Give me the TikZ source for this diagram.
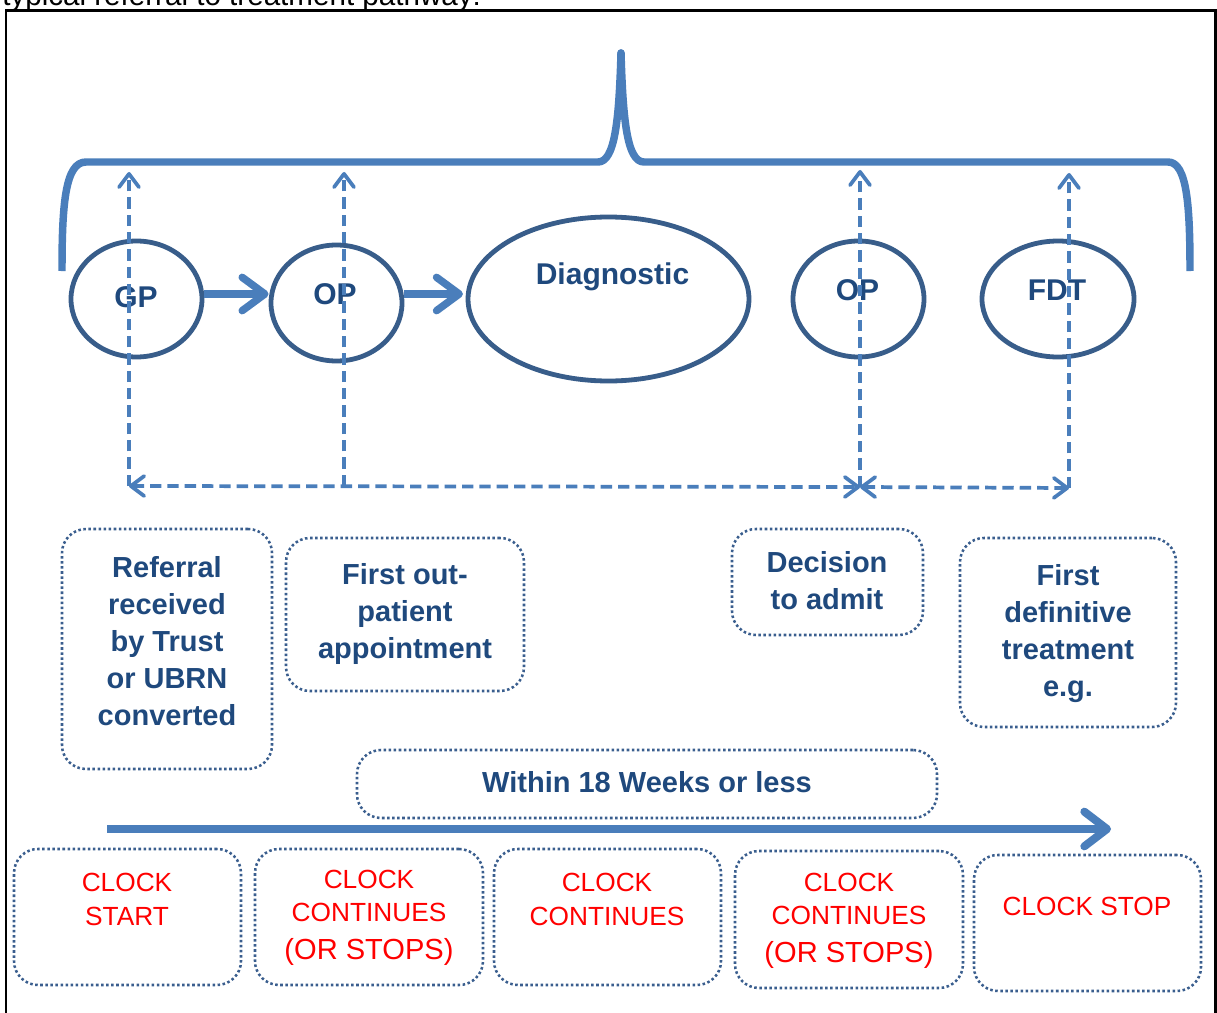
\documentclass[tikz,border=0pt]{standalone}
\usepackage{fontspec}
\setmainfont{Liberation Sans}
\usetikzlibrary{arrows.meta,shapes.geometric}
\definecolor{bracecol}{HTML}{4A7EBB}
\definecolor{ellcol}{HTML}{385D8A}
\definecolor{txtblue}{HTML}{1F497D}
\definecolor{dotcol}{HTML}{3A5E8E}
\definecolor{clockred}{HTML}{FF0000}
\begin{document}
\begin{tikzpicture}[x=0.75pt,y=-0.75pt,
  ell/.style={draw=ellcol, line width=3.6pt, ellipse, inner sep=0pt},
  elltxt/.style={text=txtblue, font=\fontsize{22.5}{27}\selectfont\bfseries, inner sep=0pt},
  thickarr/.style={draw=bracecol, line width=5.6pt, -{Straight Barb[length=17pt,width=25pt,round]}},
  bigarr/.style={draw=bracecol, line width=6pt, -{Straight Barb[length=17pt,width=26pt,round]}},
  dasharr/.style={draw=bracecol, line width=2.8pt, dash pattern=on 8.5pt off 4.5pt},
  dtip/.style={arrows={-{Straight Barb[length=10pt,width=15pt,round]}}},
  dtips/.style={arrows={{Straight Barb[length=10pt,width=15pt,round]}-{Straight Barb[length=10pt,width=15pt,round]}}},
  dotbox/.style={draw=dotcol, line width=1.9pt, dash pattern=on 1.9pt off 1.9pt, rounded corners=18pt, inner sep=0pt},
  bluetxt/.style={text=txtblue, font=\fontsize{21.75}{27.75}\selectfont\bfseries, align=center, inner sep=0pt},
  redtxt/.style={text=clockred, font=\fontsize{19.7}{25}\selectfont, align=center, inner sep=0pt}
]
\useasboundingbox (0,0) rectangle (1217,1013);
\clip (0,0) rectangle (1217,1013);
\fill[white] (0,0) rectangle (1217,1013);

% header text (cut off) and frame
\node[anchor=base west, font=\fontsize{22.2}{26}\selectfont, inner sep=0pt] (hdr) at (2,6) {typical referral to treatment pathway:};
\draw[black, line width=2pt] (6,10.5) rectangle (1215.5,1040);

% brace
\draw[bracecol, line width=5.6pt, line join=round, line cap=butt]
  (62,271) .. controls (62,205) and (65,162) .. (86,162) -- (598,162)
  .. controls (615,162) and (619,120) .. (621,53)
  .. controls (623,120) and (627,162) .. (644,162) -- (1168,162)
  .. controls (1187,162) and (1190,205) .. (1190,271);
\fill[bracecol] (621,53) circle (2.8pt);

% ellipses
\node[ell, minimum width=98.25pt, minimum height=87pt] (gp) at (136.5,299) {};
\node[ell, minimum width=98.25pt, minimum height=87pt] (op1) at (336.5,303) {};
\node[ell, minimum width=210.75pt, minimum height=123pt] (diag) at (608.5,299) {};
\node[ell, minimum width=98.25pt, minimum height=87pt] (op2) at (858.5,299) {};
\node[ell, minimum width=114pt, minimum height=87pt] (fdt) at (1058,299) {};

\node[elltxt] (gpt) at (136,297.5) {GP};
\node[elltxt] (op1t) at (335,294) {OP};
\node[elltxt, anchor=base] (diagt) at (612.5,284) {Diagnostic};
\node[elltxt] (op2t) at (857.5,290) {OP};
\node[elltxt] (fdtt) at (1057,290) {FDT};

% thick arrows
\draw[thickarr] (gp.east |- 0,294) -- (op1.west |- 0,294);
\draw[thickarr] (op1.east |- 0,294) -- ([xshift=-2]diag.west |- 0,294);

% dashed arrows
\coordinate (h1) at (129,486);
\coordinate (h2) at (344,486);
\coordinate (h3) at (860,487);
\coordinate (h4) at (1069,488);
\coordinate (u1) at (129,172);
\coordinate (u2) at (344,172);
\coordinate (u3) at (860,170);
\coordinate (u4) at (1069,173);
\draw[dasharr, dtip] (h1) -- (u1);
\draw[dasharr, dtip] (h2) -- (u2);
\draw[dasharr, dtip] (h3) -- (u3);
\draw[dasharr, dtip] (h4) -- (u4);
\draw[dasharr, dtips] (h1) -- (h3);
\draw[dasharr, dtips] (h3) -- (h4);

% milestone boxes
\node[dotbox, minimum width=157.5pt, minimum height=180pt] (bref) at (167,649) {};
\node[bluetxt] (tref) at (167,641) {Referral\\received\\by Trust\\or UBRN\\converted};
\node[dotbox, minimum width=178.5pt, minimum height=114.75pt] (bfop) at (405,614.5) {};
\node[bluetxt] (tfop) at (405,614) {First out-\\patient\\appointment};
\node[dotbox, minimum width=143.25pt, minimum height=79.5pt] (bdec) at (827.5,582) {};
\node[bluetxt] (tdec) at (827,580.5) {Decision\\to admit};
\node[dotbox, minimum width=162pt, minimum height=141.75pt] (bfdt) at (1068,632.5) {};
\node[bluetxt] (tfdt) at (1068,634) {First\\definitive\\treatment\\e.g.};
\node[dotbox, minimum width=435pt, minimum height=51pt] (bwin) at (647,784) {};
\node[bluetxt] (twin) at (647,782) {Within 18 Weeks or less};

% big arrow
\coordinate (bs) at (107,829);
\coordinate (be) at (1111,829);
\draw[bigarr] (bs) -- (be);

% clock boxes
\node[dotbox, minimum width=170.25pt, minimum height=102pt] (c1) at (127.5,917) {};
\node[dotbox, minimum width=171pt, minimum height=102pt] (c2) at (369,917) {};
\node[dotbox, minimum width=170.25pt, minimum height=102pt] (c3) at (607.5,917) {};
\node[dotbox, minimum width=171pt, minimum height=102.75pt] (c4) at (849,919.5) {};
\node[dotbox, minimum width=170.25pt, minimum height=102pt] (c5) at (1087.5,923) {};

\node[redtxt] (r1) at (127,899.5) {CLOCK\\START};
\node[redtxt] (r2) at (369,917.5) {CLOCK\\CONTINUES\\[3pt]{\fontsize{21.8}{25}\selectfont (OR STOPS)}};
\node[redtxt] (r3) at (607,899.5) {CLOCK\\CONTINUES};
\node[redtxt] (r4) at (849,920.5) {CLOCK\\CONTINUES\\[3pt]{\fontsize{21.8}{25}\selectfont (OR STOPS)}};
\node[redtxt] (r5) at (1087,906) {CLOCK STOP};
\end{tikzpicture}
\end{document}
